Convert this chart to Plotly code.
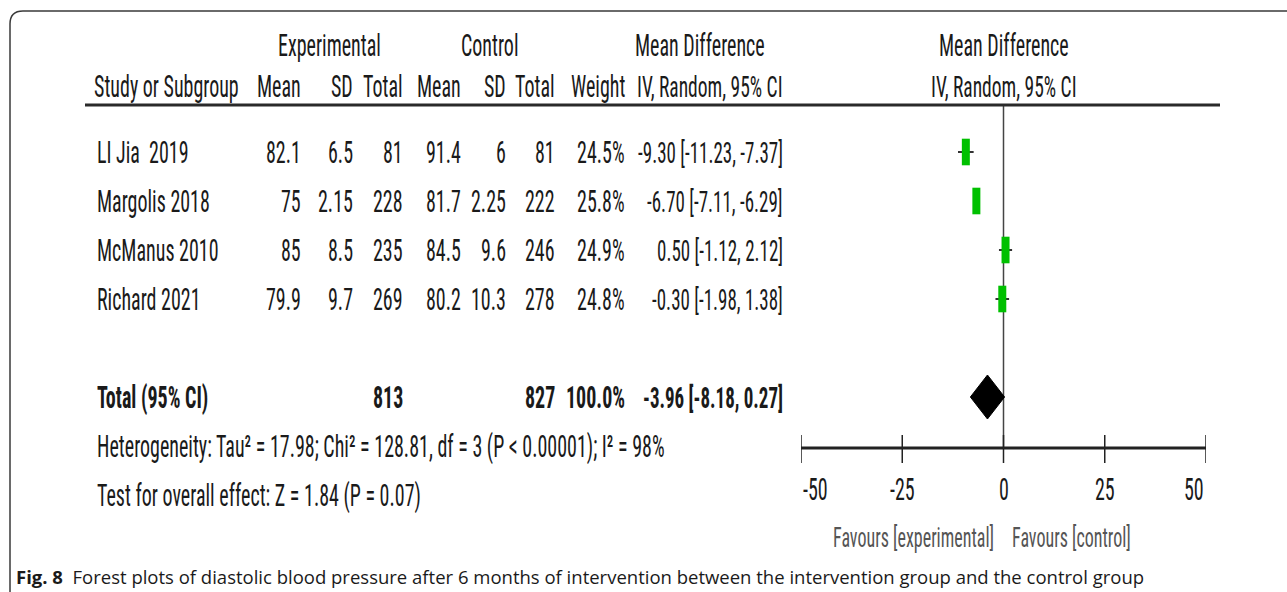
import plotly.graph_objects as go

# ---------------- data ----------------
studies = ["LI Jia  2019", "Margolis 2018", "McManus 2010", "Richard 2021"]
exp_mean = [82.1, 75, 85, 79.9]
exp_sd = [6.5, 2.15, 8.5, 9.7]
exp_n = [81, 228, 235, 269]
ctl_mean = [91.4, 81.7, 84.5, 80.2]
ctl_sd = [6, 2.25, 9.6, 10.3]
ctl_n = [81, 222, 246, 278]
weights = [24.5, 25.8, 24.9, 24.8]
md = [-9.30, -6.70, 0.50, -0.30]
ci_low = [-11.23, -7.11, -1.12, -1.98]
ci_high = [-7.37, -6.29, 2.12, 1.38]

total_exp_n = 813
total_ctl_n = 827
total_weight = 100.0
total_md = -3.96
total_low = -8.18
total_high = 0.27

heterogeneity = "Heterogeneity: Tau² = 17.98; Chi² = 128.81, df = 3 (P < 0.00001); I² = 98%"
overall = "Test for overall effect: Z = 1.84 (P = 0.07)"
tick_vals = [-50, -25, 0, 25, 50]
tick_text = ["-50", "-25", "0", "25", "50"]
caption_bold = "Fig. 8"
caption = "Forest plots of diastolic blood pressure after 6 months of intervention between the intervention group and the control group"

# ---------------- layout constants (pixels) ----------------
W, H = 1287, 592
FONT = "Liberation Sans Narrow, Arial Narrow, Roboto Condensed, Liberation Sans, sans-serif"
FS = 20
INK = "#1a1a1a"

ROW_Y = [152, 201, 250, 299]
TOTAL_Y = 397
HET_Y = 446
TEST_Y = 495
HDR1_Y = 45
HDR2_Y = 86
RULE_Y = 105
AXIS_Y = 448
TICKLAB_Y = 489
FAV_Y = 537
CAP_Y = 576

PLOT_L, PLOT_R = 801, 1206

# column right edges
C_STUDY = 95
C_EM, C_ESD, C_EN = 303, 355, 405
C_CM, C_CSD, C_CN = 463, 508, 557
C_W, C_CI = 627, 785

ann = []


def txt(x, y, s, anchor="left", bold=False, size=FS, color=INK, family=FONT, xref="paper"):
    if bold:
        s = "<b>" + s + "</b>"
    ann.append(dict(x=x / W if xref == "paper" else x, xref=xref, y=y, yref="y", text=s,
                    showarrow=False, xanchor=anchor, yanchor="middle",
                    font=dict(family=family, size=size, color=color)))


def g(v):
    return f"{v:g}"


# headers
txt(330, HDR1_Y, "Experimental", anchor="center")
txt((423 + C_CN) / 2, HDR1_Y, "Control", anchor="center")
txt(700, HDR1_Y, "Mean Difference", anchor="center")
txt((PLOT_L + PLOT_R) / 2, HDR1_Y, "Mean Difference", anchor="center")

txt(C_STUDY - 3, HDR2_Y, "Study or Subgroup")
for x, s in [(C_EM, "Mean"), (C_ESD, "SD"), (C_EN, "Total"), (C_CM, "Mean"),
             (C_CSD, "SD"), (C_CN, "Total"), (C_W, "Weight")]:
    txt(x, HDR2_Y, s, anchor="right")
txt(C_CI, HDR2_Y, "IV, Random, 95% CI", anchor="right", size=19.5)
txt((PLOT_L + PLOT_R) / 2, HDR2_Y, "IV, Random, 95% CI", anchor="center", size=19.5)

# study rows
for i, name in enumerate(studies):
    y = ROW_Y[i]
    txt(C_STUDY, y, name)
    txt(C_EM, y, g(exp_mean[i]), anchor="right")
    txt(C_ESD, y, g(exp_sd[i]), anchor="right")
    txt(C_EN, y, str(exp_n[i]), anchor="right")
    txt(C_CM, y, g(ctl_mean[i]), anchor="right")
    txt(C_CSD, y, g(ctl_sd[i]), anchor="right")
    txt(C_CN, y, str(ctl_n[i]), anchor="right")
    txt(C_W, y, f"{weights[i]:.1f}%", anchor="right")
    txt(C_CI, y, f"{md[i]:.2f} [{ci_low[i]:.2f}, {ci_high[i]:.2f}]", anchor="right", size=19)

# total row
txt(C_STUDY, TOTAL_Y, "Total (95% CI)", bold=True)
txt(C_EN, TOTAL_Y, str(total_exp_n), anchor="right", bold=True)
txt(C_CN, TOTAL_Y, str(total_ctl_n), anchor="right", bold=True)
txt(C_W, TOTAL_Y, f"{total_weight:.1f}%", anchor="right", bold=True)
txt(C_CI, TOTAL_Y, f"{total_md:.2f} [{total_low:.2f}, {total_high:.2f}]", anchor="right",
    bold=True, size=19)

txt(C_STUDY, HET_Y, heterogeneity)
txt(C_STUDY, TEST_Y, overall)

# favours
txt(996, FAV_Y, "Favours [experimental]", anchor="right", color="#555555", size=18)
txt(1010, FAV_Y, "Favours [control]", anchor="left", color="#555555", size=18)

# caption
ann.append(dict(x=14 / W, xref="paper", y=CAP_Y, yref="y",
                text=f"<b>{caption_bold}</b>  {caption}", showarrow=False,
                xanchor="left", yanchor="middle",
                font=dict(family="Open Sans, Noto Sans, sans-serif", size=18.5, color=INK)))

# tick labels (end labels kept inside the scale, as in the original)
for k, (v, s) in enumerate(zip(tick_vals, tick_text)):
    anchor = "left" if k == 0 else ("right" if k == len(tick_vals) - 1 else "center")
    txt(v, TICKLAB_Y, s, anchor=anchor, xref="x")

fig = go.Figure()

# zero line
fig.add_trace(go.Scatter(x=[0, 0], y=[RULE_Y, AXIS_Y], mode="lines",
                         line=dict(color="#444444", width=1.5), hoverinfo="skip"))
# axis line
fig.add_trace(go.Scatter(x=[tick_vals[0], tick_vals[-1]], y=[AXIS_Y, AXIS_Y], mode="lines",
                         line=dict(color="#222222", width=3), hoverinfo="skip"))
# ticks
tx, ty = [], []
for v in tick_vals:
    tx += [v, v, None]
    ty += [AXIS_Y - 13, AXIS_Y + 15, None]
fig.add_trace(go.Scatter(x=tx, y=ty, mode="lines", line=dict(color="#222222", width=1.5),
                         hoverinfo="skip"))

# CI lines
cx, cy = [], []
for i in range(len(studies)):
    cx += [ci_low[i], ci_high[i], None]
    cy += [ROW_Y[i], ROW_Y[i], None]
fig.add_trace(go.Scatter(x=cx, y=cy, mode="lines", line=dict(color="#333333", width=2),
                         hoverinfo="skip"))
# study markers (tall green blocks)
fig.add_trace(go.Scatter(x=md, y=ROW_Y, mode="markers",
                         marker=dict(symbol="line-ns", size=19,
                                     line=dict(color="#00c000", width=8)),
                         hoverinfo="skip"))
# diamond
fig.add_trace(go.Scatter(x=[total_low, total_md, total_high, total_md, total_low],
                         y=[TOTAL_Y, TOTAL_Y - 22, TOTAL_Y, TOTAL_Y + 22, TOTAL_Y],
                         mode="lines", fill="toself", fillcolor="#000000",
                         line=dict(color="#000000", width=1), hoverinfo="skip"))

shapes = [
    # header rule
    dict(type="line", xref="paper", yref="y", x0=85 / W, x1=1220 / W, y0=RULE_Y, y1=RULE_Y,
         line=dict(color="#2a2a2a", width=3)),
    # frame with rounded top-left corner
    dict(type="path", xref="paper", yref="paper",
         path=f"M {10/W},{-0.05} L {10/W},{1-24/H} Q {10/W},{1-11/H} {23/W},{1-11/H} L {1.05},{1-11/H}",
         line=dict(color="#3a3a3a", width=1.5)),
]

fig.update_layout(
    width=W, height=H, margin=dict(l=0, r=0, t=0, b=0),
    paper_bgcolor="white", plot_bgcolor="rgba(0,0,0,0)",
    showlegend=False, annotations=ann, shapes=shapes,
    xaxis=dict(domain=[PLOT_L / W, PLOT_R / W], range=[-50, 50], visible=False, fixedrange=True),
    yaxis=dict(domain=[0, 1], range=[H, 0], visible=False, fixedrange=True),
)

# The original figure's table text is vertically stretched (tall, narrow glyphs):
# stretch the narrow-font annotation texts about their own centre.
post = """
document.body.style.margin='0';
document.body.style.overflow='hidden';
document.querySelectorAll('g.annotation text').forEach(function(t){
  var ff = (t.style.fontFamily || '');
  if (ff.indexOf('Narrow') >= 0) {
    t.style.transformBox = 'fill-box';
    t.style.transformOrigin = 'center';
    t.style.transform = 'scaleY(1.55)';
  }
});
"""

fig.write_html("out.html", config={"displayModeBar": False}, post_script=post)
